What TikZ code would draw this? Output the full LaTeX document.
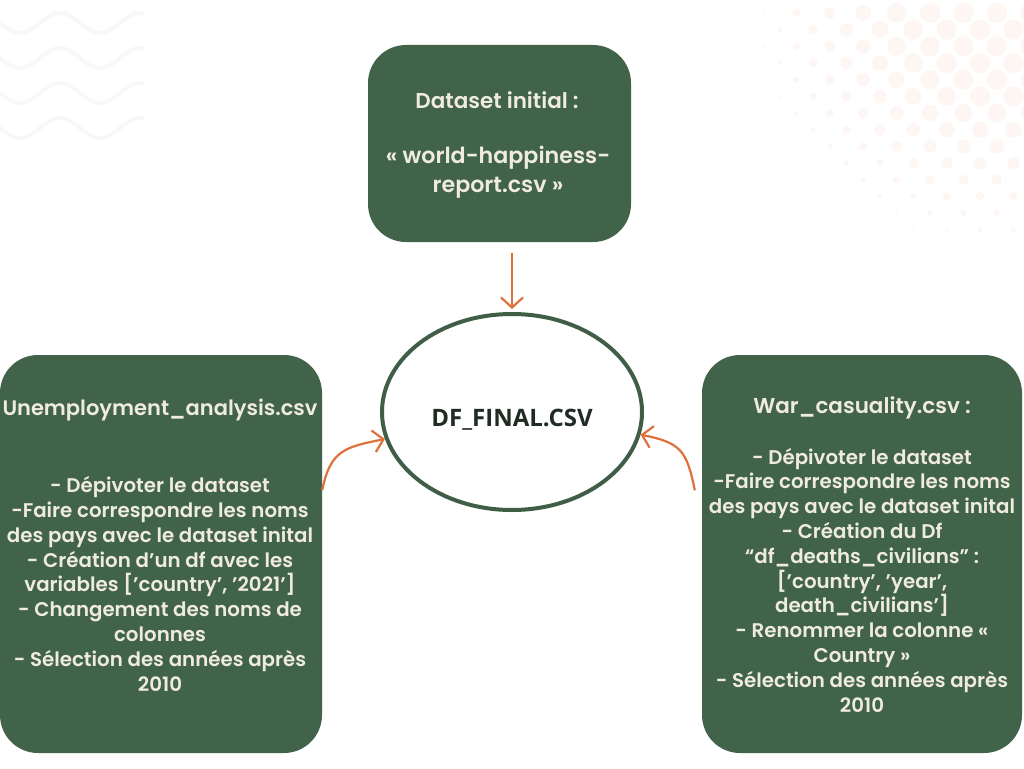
\documentclass[tikz,border=0pt]{standalone}
\usepackage{fontspec}
\setmainfont{Poppins}[BoldFont={Poppins SemiBold}]
\newfontfamily\dffont{Open Sans}
\usetikzlibrary{shapes.geometric,arrows.meta,calc}
\definecolor{boxgreen}{HTML}{41634A}
\definecolor{cream}{HTML}{EFEBDF}
\definecolor{arrorange}{HTML}{E0703C}
\definecolor{ringgreen}{HTML}{3F5E45}
\definecolor{darktext}{HTML}{1F2B23}
\definecolor{wavec}{HTML}{FAF8F6}
\definecolor{dotc}{HTML}{FDF6F2}
\begin{document}
\begin{tikzpicture}[x=1pt,y=-1pt,
  box/.style={fill=boxgreen, rounded corners=38pt, inner sep=0pt},
  bodytext/.style={text=cream, align=center, inner sep=0pt, anchor=base, font=\bfseries\fontsize{19.8}{24.8}\selectfont},
  titletext/.style={text=cream, align=center, inner sep=0pt, anchor=base, font=\bfseries\fontsize{21.5}{29}\selectfont},
  arr/.style={draw=arrorange, line width=2.2pt, -{Straight Barb[length=10pt,width=22pt]}},
]
\useasboundingbox (0,0) rectangle (1024,768);
\fill[white] (0,0) rectangle (1024,768);

% faint background decoration
\foreach \c in {23,58,93,128}{
  \draw[wavec, line width=4pt, line cap=round] plot[domain=0:143, samples=60, smooth] (\x, {\c+10*cos(4.5*(\x-20))});
}
\begin{scope}
\clip (0,0) rectangle (1024,768);
\foreach \j in {0,...,13}{
  \foreach \i in {0,...,8}{
    \pgfmathsetmacro\px{763+33.4*\i+mod(\j,2)*16.7}
    \pgfmathsetmacro\py{13+16.67*\j}
    \pgfmathsetmacro\dd{veclen(\px-1000,\py)}
    \pgfmathsetmacro\rr{min(10,10-(\dd-100)*0.06)}
    \ifdim\rr pt>0.6pt \fill[dotc] (\px,\py) circle[radius=\rr]; \fi
  }
}
\end{scope}

% boxes
\node[box, minimum width=263pt, minimum height=197pt] (top) at (499.5,143.5) {};
\node[box, minimum width=322pt, minimum height=398pt] (left) at (161,554) {};
\node[box, minimum width=320pt, minimum height=398pt] (right) at (862,554) {};
\node[ellipse, draw=ringgreen, line width=4pt, minimum width=260pt, minimum height=196pt, inner sep=0pt] (final) at (512,412) {};

% texts (anchored at the baseline of the last line)
\node[titletext] (toptitle) at (497,108) {Dataset initial :};
\node[titletext, font=\bfseries\fontsize{22.2}{29}\selectfont] (topbody) at (498,192) {« world-happiness-\\report.csv »};
\node[text=darktext, inner sep=0pt, anchor=base, font=\dffont\bfseries\fontsize{24}{28}\selectfont] (finaltext) at (512,426) {DF\_FINAL.CSV};

\node[titletext, font=\bfseries\fontsize{21}{29}\selectfont] (lefttitle) at (160,415) {Unemployment\_analysis.csv};
\node[bodytext] (leftbody) at (160,691) {- Dépivoter le dataset\\-Faire correspondre les noms\\des pays avec le dataset inital\\- Création d’un df avec les\\variables {[}'country', '2021'{]}\\- Changement des noms de\\colonnes\\- Sélection des années après\\2010};

\node[titletext] (righttitle) at (862,413) {War\_casuality.csv :};
\node[bodytext] (rightbody) at (862,712) {- Dépivoter le dataset\\-Faire correspondre les noms\\des pays avec le dataset inital\\- Création du Df\\“df\_deaths\_civilians” :\\{[}'country', 'year',\\death\_civilians'{]}\\- Renommer la colonne «\\Country »\\- Sélection des années après\\2010};

% connectors
\draw[arr, shorten <=11pt, shorten >=3pt] (final.north |- top.south) -- (final.north);
\coordinate (ls) at ($(left.north east)!0.34!(left.south east)$);
\coordinate (rs) at ($(right.north west)!0.34!(right.south west)+(-7,0)$);
\draw[arr] (ls) .. controls +(8,-40) and +(-40,8) .. (final.192);
\draw[arr] (rs) .. controls +(-8,-40) and +(40,8) .. (final.350);
\end{tikzpicture}
\end{document}
